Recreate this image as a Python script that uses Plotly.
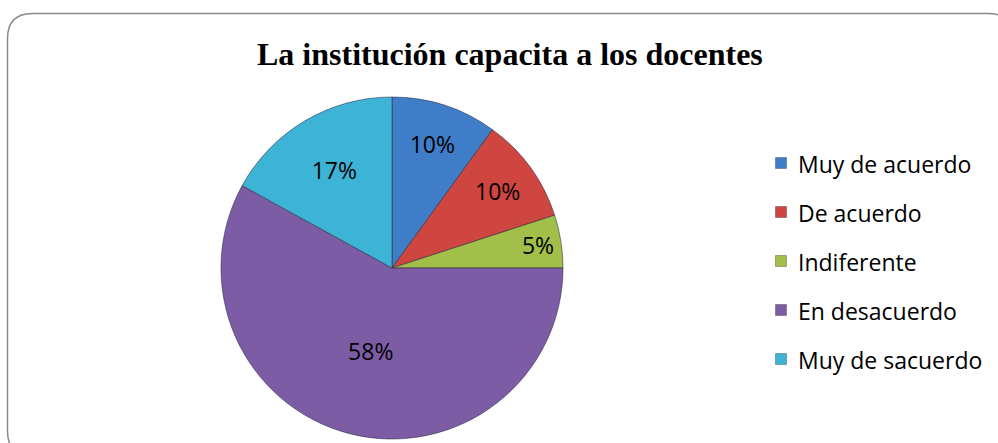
import plotly.graph_objects as go

W, H = 998, 443

categories = ["Muy de acuerdo", "De acuerdo", "Indiferente", "En desacuerdo", "Muy de sacuerdo"]
values = [10, 10, 5, 58, 17]
colors = ["#3F7DC8", "#CF4540", "#A2BF4A", "#7D5CA6", "#3DB4D5"]
title_text = "La institución capacita a los docentes"

def px(x):
    return x / W

def py(y):
    return 1 - y / H

cx, cy, r = 392, 268, 171

fig = go.Figure()
fig.add_trace(go.Pie(
    labels=categories,
    values=values,
    sort=False,
    direction="clockwise",
    rotation=0,
    marker=dict(colors=colors, line=dict(color="rgba(40,40,60,0.55)", width=1)),
    texttemplate="%{percent:.0%}",
    textposition="inside",
    insidetextorientation="horizontal",
    textfont=dict(family="Open Sans", size=23, color="black"),
    showlegend=False,
    hoverinfo="label+percent",
    domain=dict(x=[px(cx - r), px(cx + r)], y=[py(cy + r), py(cy - r)]),
))

shapes = []
annotations = []

# outer rounded frame
x0, y0, x1, y1, rad = 7.5, 13.5, 1013, 456, 25
path = (f"M {px(x0)},{py(y0 + rad)} "
        f"Q {px(x0)},{py(y0)} {px(x0 + rad)},{py(y0)} "
        f"L {px(x1 - rad)},{py(y0)} "
        f"Q {px(x1)},{py(y0)} {px(x1)},{py(y0 + rad)} "
        f"L {px(x1)},{py(y1 - rad)} "
        f"Q {px(x1)},{py(y1)} {px(x1 - rad)},{py(y1)} "
        f"L {px(x0 + rad)},{py(y1)} "
        f"Q {px(x0)},{py(y1)} {px(x0)},{py(y1 - rad)} Z")
shapes.append(dict(type="path", xref="paper", yref="paper", path=path,
                   line=dict(color="#8A8A8A", width=1.5), fillcolor="rgba(0,0,0,0)", layer="below"))

# legend
leg_x, leg_y0, leg_dy, sq = 781, 163, 49, 11
for i, (lab, col) in enumerate(zip(categories, colors)):
    yc = leg_y0 + i * leg_dy
    shapes.append(dict(type="rect", xref="paper", yref="paper",
                       x0=px(leg_x - sq / 2), x1=px(leg_x + sq / 2),
                       y0=py(yc + sq / 2), y1=py(yc - sq / 2),
                       fillcolor=col, line=dict(color="rgba(0,0,0,0.35)", width=0.8)))
    annotations.append(dict(xref="paper", yref="paper", x=px(leg_x + 15), y=py(yc + 1),
                            xanchor="left", yanchor="middle", showarrow=False, text=lab,
                            font=dict(family="Open Sans", size=23, color="black")))

annotations.append(dict(xref="paper", yref="paper", x=px(510), y=py(54),
                        xanchor="center", yanchor="middle", showarrow=False,
                        text="<b>" + title_text + "</b>",
                        font=dict(family="Liberation Serif", size=32, color="black")))

fig.update_layout(
    width=W, height=H,
    margin=dict(l=0, r=0, t=0, b=0),
    paper_bgcolor="white", plot_bgcolor="white",
    shapes=shapes, annotations=annotations,
    showlegend=False,
)

fig.write_html("out.html", config={"displayModeBar": False},
               post_script="document.body.style.margin='0';document.body.style.overflow='hidden';")
